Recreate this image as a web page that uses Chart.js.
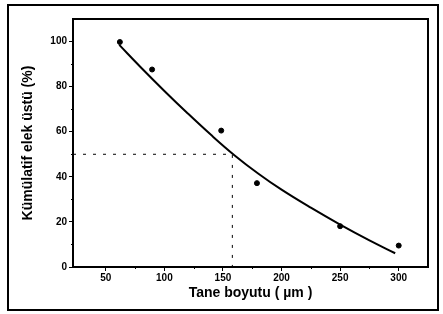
<!DOCTYPE html>
<html>
<head>
<meta charset="utf-8">
<script src="https://cdn.jsdelivr.net/npm/chart.js@4/dist/chart.umd.min.js"></script>
<style>
  body { margin: 0; background: #fff; }
  canvas { display: block; }
</style>
</head>
<body>
<canvas id="sieveChart" width="443" height="314"></canvas>
<script>
// measured points (x: grain size in µm, y: cumulative retained %)
const sizeX = [62, 89.5, 148.5, 179, 250, 300];
const retainedY = [99.8, 87.6, 60.5, 37.2, 18.1, 9.5];

// fitted curve
const curveX = [61.5, 80, 100, 120, 140, 160, 180, 200, 225, 250, 275, 297];
const curveY = [98.5, 88.5, 78.1, 68.1, 58.5, 49.5, 41.5, 34.3, 26.3, 18.8, 11.8, 6.1];

// dashed guide lines (d50)
const guideX = [22, 158, 158];
const guideY = [50, 50, 0];

const xTicks = [50, 100, 150, 200, 250, 300];
const yTicks = [0, 20, 40, 60, 80, 100];
const xMinor = [75, 125, 175, 225, 275];
const yMinor = [10, 30, 50, 70, 90];

const toPoints = (xs, ys) => xs.map((x, i) => ({ x: x, y: ys[i] }));

// frame + minor ticks + outer box
const framePlugin = {
    id: "frame",
    afterDraw(chart) {
        const { ctx, chartArea: a, scales } = chart;
        ctx.save();
        ctx.strokeStyle = "#000";
        ctx.lineWidth = 2;
        ctx.beginPath();
        ctx.moveTo(a.left, a.top);
        ctx.lineTo(a.right, a.top);
        ctx.lineTo(a.right, a.bottom);
        ctx.stroke();

        // outer border
        ctx.strokeRect(8, 5, 430, 305);

        // minor ticks
        ctx.lineWidth = 1;
        ctx.beginPath();
        xMinor.forEach(v => {
            const px = Math.round(scales.x.getPixelForValue(v)) + 0.5;
            ctx.moveTo(px, a.bottom);
            ctx.lineTo(px, a.bottom + 2);
        });
        yMinor.forEach(v => {
            const py = Math.round(scales.y.getPixelForValue(v)) + 0.5;
            ctx.moveTo(a.left, py);
            ctx.lineTo(a.left - 2, py);
        });
        ctx.stroke();
        ctx.restore();
    }
};

const tickFont = { family: "'Liberation Sans', Arial, sans-serif", size: 10, weight: "bold" };

new Chart(document.getElementById("sieveChart"), {
    type: "scatter",
    data: {
        datasets: [
            {
                label: "guide",
                data: toPoints(guideX, guideY),
                showLine: true,
                borderColor: "#000",
                borderWidth: 1,
                borderDash: [3, 7],
                pointRadius: 0
            },
            {
                label: "fit",
                data: toPoints(curveX, curveY),
                showLine: true,
                borderColor: "#000",
                borderWidth: 2,
                tension: 0.4,
                pointRadius: 0
            },
            {
                label: "measured",
                data: toPoints(sizeX, retainedY),
                backgroundColor: "#000",
                borderColor: "#000",
                pointRadius: 2.5
            }
        ]
    },
    options: {
        responsive: false,
        animation: false,
        layout: { padding: { left: 0, top: 19, right: 15, bottom: 0 } },
        plugins: {
            legend: { display: false },
            tooltip: { enabled: false }
        },
        scales: {
            x: {
                type: "linear",
                min: 22,
                max: 325,
                afterBuildTicks: s => { s.ticks = xTicks.map(v => ({ value: v })); },
                afterFit: s => { s.height = 47; },
                grid: { drawOnChartArea: false, drawTicks: true, tickLength: 4, color: "#000", lineWidth: 1 },
                border: { display: true, color: "#000", width: 2 },
                ticks: { color: "#000", font: tickFont, padding: 1 },
                title: {
                    display: true,
                    text: "Tane boyutu ( µm )",
                    color: "#000",
                    font: { family: "'Liberation Sans', Arial, sans-serif", size: 14, weight: "bold" },
                    padding: { top: 0, bottom: 12 }
                }
            },
            y: {
                type: "linear",
                min: 0,
                max: 110,
                afterBuildTicks: s => { s.ticks = yTicks.map(v => ({ value: v })); },
                afterFit: s => { s.width = 73; },
                grid: { drawOnChartArea: false, drawTicks: true, tickLength: 4, color: "#000", lineWidth: 1 },
                border: { display: true, color: "#000", width: 2 },
                ticks: { color: "#000", font: tickFont, padding: 2 },
                title: {
                    display: true,
                    text: "Kümülatif elek üstü (%)",
                    color: "#000",
                    font: { family: "'Liberation Sans', Arial, sans-serif", size: 14, weight: "bold" },
                    padding: { top: 20, bottom: 0 }
                }
            }
        }
    },
    plugins: [framePlugin]
});
</script>
</body>
</html>
